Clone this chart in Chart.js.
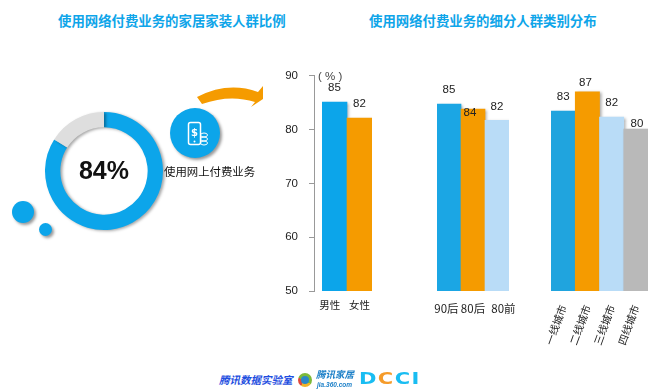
<!DOCTYPE html>
<html>
<head>
<meta charset="utf-8">
<script src="https://cdn.jsdelivr.net/npm/chart.js@4"></script>
<style>
body { margin: 0; background: #fff; font-family: "Noto Sans CJK SC", sans-serif; }
#page { position: relative; width: 659px; height: 389px; overflow: hidden; }
#page canvas, .abs { position: absolute; }
.title { font-size: 13.4px; font-weight: bold; color: #0ea5e9; white-space: nowrap; top: 10px; }
.dot { background: #0ca5ea; border-radius: 50%; box-shadow: 2px 2px 3px #999; }
</style>
</head>
<body>
<div id="page">
    <div class="abs title" style="left:58px">使用网络付费业务的家居家装人群比例</div>
    <div class="abs title" style="left:369px">使用网络付费业务的细分人群类别分布</div>

    <canvas id="ringChart" style="left:34px;top:101px"></canvas>
    <div class="abs" id="ringText" style="left:64px;top:156px;width:80px;text-align:center;font:bold 25px 'Liberation Sans';color:#111">84%</div>

    <div class="abs dot" style="left:12px;top:201px;width:22px;height:22px"></div>
    <div class="abs dot" style="left:39px;top:223px;width:13px;height:13px"></div>
    <div class="abs dot" style="left:170px;top:108px;width:50px;height:50px"></div>

    <svg class="abs" style="left:170px;top:84px" width="100" height="76">
        <path d="M27 13 Q58 -3 88 8 L93 2 L93 15 L81 23 L85 18 Q60 10 32 20 Z" fill="#f59b00"/>
        <g fill="none" stroke="#fff" stroke-width="1.5">
            <rect x="18.5" y="38.5" width="12" height="22" rx="2"/>
            <ellipse cx="34" cy="51" rx="3.5" ry="2" stroke-width="1"/>
            <ellipse cx="34" cy="55" rx="3.5" ry="2" stroke-width="1"/>
            <ellipse cx="34" cy="59" rx="3.5" ry="2" stroke-width="1"/>
        </g>
        <circle cx="24.5" cy="57.5" r="1" fill="#fff"/>
        <text x="24.5" y="52" font-size="10" font-weight="bold" fill="#fff" text-anchor="middle" font-family="DejaVu Sans">$</text>
    </svg>
    <div class="abs" style="left:164px;top:163px;font-size:11.4px;color:#111;white-space:nowrap">使用网上付费业务</div>

    <canvas id="axisPanel" style="left:280px;top:58px"></canvas>
    <canvas id="groupGender" style="left:312px;top:65px"></canvas>
    <canvas id="groupAge" style="left:425px;top:65px"></canvas>
    <canvas id="groupCity" style="left:540px;top:65px"></canvas>
    <div class="abs" style="left:318px;top:70px;font:11.5px 'Liberation Sans';color:#444;white-space:pre">( % )</div>

    <div class="abs" style="left:219px;top:372px;font:italic bold 10.5px 'Noto Sans CJK SC';color:#1d4ee0;white-space:nowrap">腾讯数据实验室</div>
    <div class="abs" style="left:298px;top:373px;width:14px;height:14px;border-radius:50%;background:conic-gradient(#7cb93a 0 35%, #f0b429 35% 60%, #e0483a 60% 80%, #7cb93a 80%)"></div>
    <div class="abs" style="left:301px;top:376px;width:8px;height:8px;border-radius:50%;background:#2a87c8;border:0"></div>
    <div class="abs" style="left:316px;top:367px;font:italic bold 9.5px 'Noto Sans CJK SC';color:#1d80c8;white-space:nowrap">腾讯家居</div>
    <div class="abs" style="left:317px;top:381px;font:italic bold 6.5px 'Liberation Sans';color:#1d80c8;white-space:nowrap">jia.360.com</div>
    <div class="abs" style="left:359px;top:370px;font:bold 15px 'DejaVu Sans';letter-spacing:1px;color:#19bdf2;white-space:nowrap;transform:scaleX(1.4);transform-origin:left top">D<span style="color:#f59b2a">C</span>CI</div>
</div>

<script>
// values
const ringLabels = ['使用网上付费业务', '其他'];
const ringValues = [84, 16];

const genderLabels = ['男性', '女性'];
const genderValues = [85, 82];

const ageLabels = ['90后', '80后', '80前'];
const ageValues = [84.6, 83.7, 81.6];

const cityLabels = ['一线城市', '二线城市', '三线城市', '四线城市'];
const cityValues = [83.3, 86.9, 82.2, 80];

const yTicks = [50, 60, 70, 80, 90];

const CHART_H = 290;   // canvas height shared by the bar panels
const AXIS_H = 64;     // room below the plot for category labels

Chart.defaults.animation = false;
Chart.defaults.responsive = false;

// soft grey edge on the right of each bar / ring
const shadowPlugin = {
    id: 'softShadow',
    beforeDatasetDraw(chart) {
        const ctx = chart.ctx;
        ctx.save();
        ctx.shadowColor = 'rgba(0,0,0,0.35)';
        ctx.shadowBlur = 3;
        ctx.shadowOffsetX = 2;
        ctx.shadowOffsetY = 1;
    },
    afterDatasetDraw(chart) {
        chart.ctx.restore();
    }
};

// value labels, drawn after the bars so they sit on top
const valueLabels = {
    id: 'valueLabels',
    afterDatasetsDraw(chart, args, opts) {
        const ctx = chart.ctx;
        const values = chart.data.datasets[0].data;
        chart.getDatasetMeta(0).data.forEach((bar, i) => {
            const nudge = opts.nudge[i] || [0, -14];
            ctx.save();
            ctx.font = '11.5px "Liberation Sans"';
            ctx.fillStyle = '#222';
            ctx.textAlign = 'center';
            ctx.textBaseline = 'middle';
            ctx.fillText(Math.round(values[i]), bar.x + nudge[0], bar.y + nudge[1]);
            ctx.restore();
        });
    }
};

// tick labels in the original do not sit exactly under their bars,
// spaces on one side push the centred text over
function padLabel(label, pad) {
    if (!pad) return label;
    const spaces = ' '.repeat(Math.abs(pad));
    return pad < 0 ? label + spaces : spaces + label;
}

function barPanel(id, width, labels, values, colors, opts) {
    const canvas = document.getElementById(id);
    canvas.width = width;
    canvas.height = opts.height || CHART_H;
    return new Chart(canvas, {
        type: 'bar',
        data: {
            labels: labels,
            datasets: [{
                data: values,
                backgroundColor: colors,
                categoryPercentage: 1,
                barPercentage: 1
            }]
        },
        plugins: [shadowPlugin, valueLabels],
        options: {
            layout: { padding: { top: opts.top, left: opts.left, right: opts.right } },
            plugins: {
                legend: { display: false },
                tooltip: { enabled: false },
                valueLabels: { nudge: opts.nudge }
            },
            scales: {
                x: {
                    grid: { display: false },
                    border: { display: false },
                    ticks: {
                        color: '#222',
                        font: { size: opts.labelSize, family: '"Noto Sans CJK SC"' },
                        padding: opts.labelPad,
                        autoSkip: false,
                        minRotation: opts.rotation,
                        maxRotation: opts.rotation,
                        callback(value, index) {
                            return padLabel(labels[index], opts.shift[index]);
                        }
                    },
                    afterFit(scale) { scale.height = AXIS_H; }
                },
                y: {
                    display: opts.showAxis,
                    min: 50,
                    max: 90,
                    afterBuildTicks(scale) { scale.ticks = yTicks.map(v => ({ value: v })); },
                    grid: { display: true, drawOnChartArea: false, tickLength: 5, color: '#999' },
                    border: { display: true, color: '#999' },
                    ticks: { color: '#222', font: { size: 11.5, family: '"Liberation Sans"' }, padding: 11 },
                    afterFit(scale) { if (opts.showAxis) scale.width = 34; }
                }
            }
        }
    });
}

// the y axis gets its own panel because the first group of bars does not touch it
barPanel('axisPanel', 36, [], [], [],
    { height: 297, top: 3, left: 0, right: 0, showAxis: true, labelSize: 10.5, labelPad: 0, rotation: 0, shift: [], nudge: [] });

barPanel('groupGender', 70, genderLabels, genderValues, ['#0ca5ea', '#f59b00'],
    { top: 10, left: 10, right: 10, showAxis: false, labelSize: 10.5, labelPad: 0, rotation: 0, shift: [-4, 0], nudge: [] });

barPanel('groupAge', 100, ageLabels, ageValues, ['#1ba6e4', '#f59b00', '#b9dcf7'],
    { top: 10, left: 12, right: 16, showAxis: false, labelSize: 11.5, labelPad: 3, rotation: 0, shift: [-2, 0, 5], nudge: [[0, -14], [-3, 4]] });

barPanel('groupCity', 119, cityLabels, cityValues, ['#20a4de', '#f59b00', '#b9dcf7', '#b9b9b9'],
    { top: 10, left: 11, right: 11, showAxis: false, labelSize: 10.5, labelPad: 4, rotation: 70, shift: [], nudge: [[0, -14], [-2, -9], [0, -14], [1, -5]] });

const ringCanvas = document.getElementById('ringChart');
ringCanvas.width = 140;
ringCanvas.height = 140;
new Chart(ringCanvas, {
    type: 'doughnut',
    data: {
        labels: ringLabels,
        datasets: [{
            data: ringValues,
            backgroundColor: ['#0ca5ea', '#dedede'],
            borderWidth: 0
        }]
    },
    plugins: [shadowPlugin],
    options: {
        cutout: '74%',
        layout: { padding: 11 },
        plugins: { legend: { display: false }, tooltip: { enabled: false } }
    }
});
</script>
</body>
</html>
